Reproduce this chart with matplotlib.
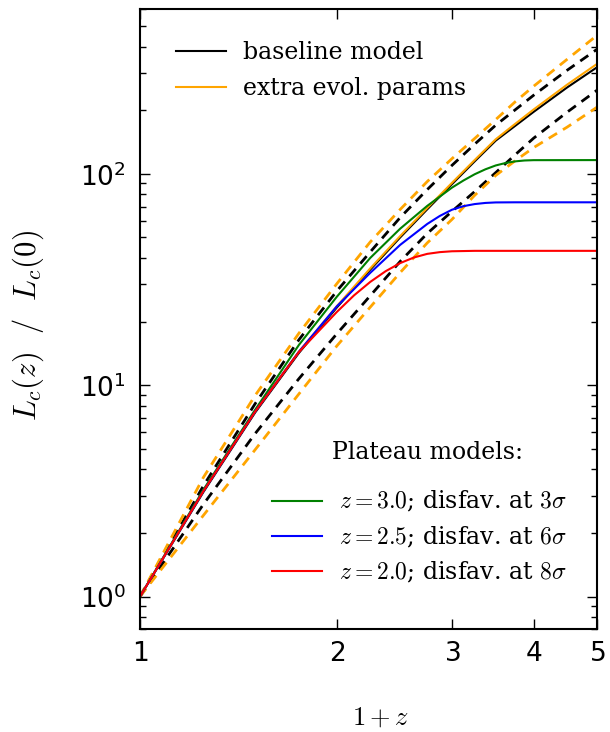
import numpy as np
import matplotlib
matplotlib.use('Agg')
import matplotlib.pyplot as plt

plt.rcParams['font.family'] = 'DejaVu Serif'
plt.rcParams['mathtext.fontset'] = 'cm'
plt.rcParams['lines.scale_dashes'] = False

onepz = [1.0, 1.25, 1.5, 1.75, 2.0, 2.25, 2.5, 2.75, 3.0, 3.25, 3.5, 3.75, 4.0, 4.5, 5.0]

# baseline model: median and band
base_mid = [1.0, 3.12, 7.42, 14.2, 23.3, 35.2, 50.0, 67.9, 89.3, 114.5, 143.5, 168.7, 196.3, 256.0, 319.0]
base_hi = [1.0, 3.34, 8.17, 16.4, 27.9, 42.7, 62.1, 84.2, 109.6, 138.1, 169.8, 201.0, 235.3, 308.8, 388.0]
base_lo = [1.0, 2.73, 5.90, 10.73, 17.5, 26.5, 38.5, 52.2, 66.4, 82.4, 101.3, 123.2, 147.4, 195.6, 248.5]

# extra evolution parameters: median and band
extra_mid = [1.0, 3.17, 7.53, 14.4, 23.65, 35.7, 50.75, 68.9, 90.6, 116.2, 145.7, 172.5, 201.5, 264.0, 331.0]
extra_hi = [1.0, 3.66, 8.94, 17.6, 30.2, 47.6, 67.8, 91.9, 117.9, 146.9, 180.5, 219.3, 259.5, 347.9, 451.7]
extra_lo = [1.0, 2.42, 4.95, 9.09, 15.33, 23.4, 34.1, 47.1, 60.8, 79.1, 98.2, 115.4, 133.0, 166.2, 206.5]

# plateau models (own grids, denser where they bend over)
z30_x = [1.0, 1.25, 1.5, 1.75, 2.0, 2.25, 2.5, 2.75, 3.0, 3.125, 3.25, 3.375, 3.5, 3.625, 3.75, 3.875, 4.0, 5.0]
z30_y = [1.0, 3.2, 7.65, 15.5, 26.2, 40.0, 55.0, 70.5, 86.0, 93.0, 99.5, 105.0, 109.5, 112.5, 114.5, 115.6, 116.0, 116.1]

z25_x = [1.0, 1.25, 1.5, 1.75, 2.0, 2.25, 2.5, 2.75, 2.875, 3.0, 3.125, 3.25, 3.375, 3.5, 3.75, 5.0]
z25_y = [1.0, 3.15, 7.5, 14.4, 23.6, 34.0, 46.1, 57.9, 63.2, 67.6, 70.3, 71.9, 72.8, 73.2, 73.3, 73.3]

z20_x = [1.0, 1.25, 1.5, 1.75, 2.0, 2.125, 2.25, 2.375, 2.5, 2.625, 2.75, 2.875, 3.0, 3.25, 5.0]
z20_y = [1.0, 3.15, 7.5, 14.35, 22.2, 26.6, 30.8, 34.6, 37.8, 40.2, 41.8, 42.6, 43.0, 43.2, 43.2]

plat_labels = [r'$z=3.0$; disfav. at $3\sigma$',
               r'$z=2.5$; disfav. at $6\sigma$',
               r'$z=2.0$; disfav. at $8\sigma$']

fig = plt.figure(figsize=(6.1, 7.32), dpi=100)
ax = fig.add_axes([140/610., (732-629.3)/732., 457/610., 620/732.])

dash = (7, 5)
ax.plot(onepz, base_hi, color='black', lw=2, dashes=dash)
ax.plot(onepz, base_lo, color='black', lw=2, dashes=dash)
ax.plot(onepz, extra_hi, color='orange', lw=2, dashes=dash)
ax.plot(onepz, extra_lo, color='orange', lw=2, dashes=dash)

l_base, = ax.plot(onepz, base_mid, color='black', lw=1.5, label='baseline model')
l_extra, = ax.plot(onepz, extra_mid, color='orange', lw=1.5, label='extra evol. params')

l3, = ax.plot(z30_x, z30_y, color='green', lw=1.5, label=plat_labels[0])
l2, = ax.plot(z25_x, z25_y, color='blue', lw=1.5, label=plat_labels[1])
l1, = ax.plot(z20_x, z20_y, color='red', lw=1.5, label=plat_labels[2])

ax.set_xscale('log')
ax.set_yscale('log')
ax.set_xlim(1, 5)
ax.set_ylim(0.7, 600)

ax.set_xticks([1, 2, 3, 4, 5])
ax.set_xticklabels(['$1$', '$2$', '$3$', '$4$', '$5$'], math_fontfamily='dejavusans', fontsize=19)
ax.xaxis.set_minor_locator(matplotlib.ticker.NullLocator())
ax.set_yticks([1, 10, 100])
ax.set_yticklabels([r'$10^{0}$', r'$10^{1}$', r'$10^{2}$'], math_fontfamily='dejavusans', fontsize=19)

ax.tick_params(which='both', direction='in', top=True, right=True, width=1)
ax.tick_params(which='major', length=7)
ax.tick_params(which='minor', length=4.5)
ax.tick_params(axis='x', pad=8.5)
ax.tick_params(axis='y', pad=10)
for sp in ax.spines.values():
    sp.set_linewidth(1.5)

ax.set_xlabel(r'$1+z$', fontsize=19)
ax.set_ylabel(r'$L_c(z)\ \ /\ \ L_c(0)$', fontsize=22)
ax.xaxis.set_label_coords(0.527, -0.122)
ax.yaxis.set_label_coords(-0.205, 0.49)

leg1 = ax.legend(handles=[l_base, l_extra], loc='upper left', bbox_to_anchor=(0.079, 0.949),
                 frameon=False, fontsize=17, handlelength=2.1, handletextpad=0.75,
                 labelspacing=0.57, borderpad=0, borderaxespad=0)
ax.add_artist(leg1)
leg2 = ax.legend(handles=[l3, l2, l1], loc='upper left', bbox_to_anchor=(0.289, 0.2258),
                 frameon=False, fontsize=17, handlelength=2.1, handletextpad=0.75,
                 labelspacing=0.44, borderpad=0, borderaxespad=0)
ax.text(0.630, 0.2844, 'Plateau models:', transform=ax.transAxes, fontsize=17,
        ha='center', va='center')

fig.savefig('out.png', dpi=100)
